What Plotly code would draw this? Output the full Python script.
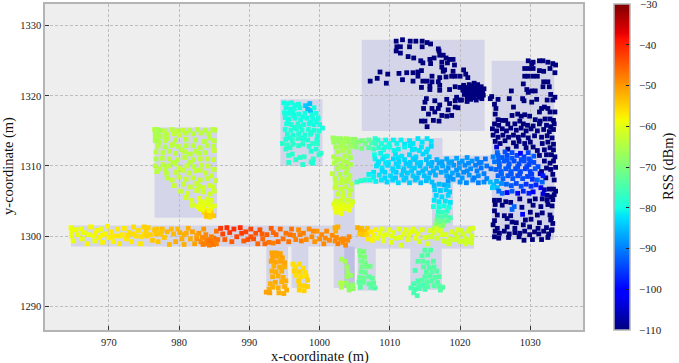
import plotly.graph_objects as go

JET = [[0.0, "rgb(0,0,127)"], [0.11, "rgb(0,0,255)"], [0.125, "rgb(0,0,255)"],
       [0.34, "rgb(0,219,255)"], [0.35, "rgb(0,229,247)"], [0.375, "rgb(20,255,226)"],
       [0.64, "rgb(238,255,8)"], [0.65, "rgb(247,246,0)"], [0.66, "rgb(255,236,0)"],
       [0.89, "rgb(255,19,0)"], [0.91, "rgb(232,0,0)"], [1.0, "rgb(127,0,0)"]]

# rooms: x0, x1, y0, y1
rooms = [
    (964.6, 1002.0, 1298.5, 1301.5), (1002.0, 1005.0, 1292.6, 1314.0), (1003.5, 1005.0, 1292.6, 1298.5),
    (1005.0, 1022.0, 1298.2, 1301.5), (1005.0, 1017.5, 1307.5, 1314.0), (1017.5, 1024.5, 1307.5, 1311.5),
    (1016.0, 1019.0, 1301.5, 1307.5), (992.4, 995.5, 1292.6, 1298.5), (996.0, 998.4, 1292.6, 1298.5),
    (1005.4, 1008.0, 1292.2, 1298.2), (1012.9, 1017.4, 1292.3, 1298.2), (976.5, 985.4, 1302.6, 1315.5),
    (994.4, 1000.4, 1310.0, 1319.5), (1006.0, 1023.5, 1315.0, 1328.0), (1024.5, 1033.4, 1299.5, 1325.0),
]

west_corridor = [
 (964.6,1301.2,-59),(964.7,1300.6,-59),(964.7,1300,-59),(964.9,1299.3,-59),(965.3,1300.9,-59),(965.6,1300.2,-59),(966,1301,-59),(966.2,1299.6,-59),(966.5,1300.5,-59),(966.9,1298.9,-58),(967.1,1300.2,-59),(967.4,1301.3,-58),(967.8,1300,-59),(968,1299.3,-59),(968.3,1300.8,-58),(968.6,1299.8,-58),(968.9,1301,-59),(969.1,1299.1,-58),(969.4,1300.3,-58),(969.8,1301.4,-58),(970,1299.8,-58),(970.3,1300.6,-57),(970.6,1299.2,-58),(970.9,1300,-57),(971.2,1301,-57),(971.5,1298.9,-57),(971.9,1300.2,-57),(972.2,1301.1,-57),(972.5,1299.6,-57),(972.9,1300.5,-56),(973.2,1299.2,-57),(973.5,1301.3,-56),(973.9,1300,-56),(974.2,1300.8,-56),(974.5,1298.9,-57),(974.9,1300.2,-56),(975,1301.3,-55),(975.3,1300.7,-55),(975.6,1301.2,-55),(975.9,1300.2,-55),(976.2,1299.4,-54),(976.5,1300.9,-54),(976.8,1301,-54),(977,1299.2,-54),(977.3,1300.3,-54),(977.6,1301,-53),(977.9,1299.8,-54),(978.3,1300.6,-53),(978.6,1298.8,-53),(978.9,1301,-53),(979.2,1300.3,-53),(979.5,1299.2,-52),(979.8,1301,-53),(980.1,1300.5,-52),(980.4,1299.6,-52),(980.7,1298.8,-52),(981,1300.4,-52),(981.3,1301.1,-52),(981.6,1299.6,-52),(981.9,1300.6,-51),(982.2,1298.9,-51),(982.5,1299.6,-50),(982.8,1300.4,-50),(983.1,1299.2,-49),(983.3,1299.8,-49),(983.5,1301,-50),(983.7,1298.9,-48),(983.9,1299.5,-48),(984.1,1299.1,-48),(984.3,1298.7,-48),(984.5,1299.5,-48),(984.7,1298.9,-48),(984.9,1299.7,-47),(985.1,1299.2,-48),(985.3,1300.7,-47),(985.5,1299.5,-47),(985.9,1301.1,-42),(986.2,1300.3,-43),(986.5,1299.5,-45),(986.8,1301.2,-41),(987.2,1300.5,-42),(987.5,1299.2,-45),(987.8,1301,-41),(988.2,1299.9,-43),(988.7,1301.2,-41),(988.9,1300.4,-42),(989.2,1299.3,-45),(989.5,1300.6,-43),(989.8,1299.5,-44),(990.2,1301,-43),(990.6,1299.6,-44),(990.9,1300.4,-44),(991.2,1298.9,-46),(991.5,1300.9,-44),(991.9,1299.6,-46),(992.2,1298.9,-46),(992.5,1300.2,-45),(992.8,1299.1,-47),(993.1,1301.1,-45),(993.4,1299,-48),(993.8,1300.2,-46),(994.1,1299.2,-46),(994.4,1301,-46),(994.8,1299.6,-47),(995.2,1300.4,-47),(995.6,1299.2,-47),(996,1301,-47),(996.3,1300.1,-48),(996.6,1299.5,-48),(997,1300.9,-49),(997.4,1299.3,-48),(997.7,1300.4,-48),(998.1,1299.5,-49),(998.5,1301,-49),(998.9,1299.9,-49),(999.3,1299.2,-50),(999.6,1300.7,-50),(1000,1299.6,-49),(1000.3,1300.2,-49),(1000.6,1298.9,-49),(1001,1300.7,-49),(1001.4,1299.4,-49),(1001.8,1300.1,-49),(1002.2,1299.3,-49),(1002.6,1298.9,-48),(1003,1299.5,-49),(1003.3,1299.1,-49),(1003.7,1298.7,-49),(1004,1299.4,-49),(1004.2,1299.9,-49),(1002.2,1301.2,-52),(1002.3,1300.7,-52),(1002.6,1301.3,-52),
 (968.1,1300.4,-58),(969,1300.1,-58),(970.4,1299.9,-57),(971.6,1300,-57),(972.7,1300.1,-56),(973.4,1300.3,-56),(974.6,1299.9,-56),(975.4,1300,-55),(976.7,1300.3,-54),(977.5,1300.6,-54),(980.7,1300.2,-52),(982.5,1300.1,-51),(983.8,1300.2,-49),(984.6,1299.9,-48),(984.3,1299.3,-47),(984.9,1298.8,-47),(985.3,1298.9,-48),(983.4,1298.8,-48),(990.2,1299.9,-44),(991.8,1300.3,-45),(993.4,1300.5,-46),(995.8,1300.2,-47),(997.2,1300.2,-48),(999.1,1300.7,-49),(1000.8,1299.7,-49),(1003.4,1299.6,-49),(1002.4,1299.8,-49),
]

nw_room = [
 (976.5,1315.2,-65),(976.8,1315.2,-65),(977.2,1315.1,-66),(976.6,1314.7,-65),(977,1314.5,-66),(976.6,1314.2,-65),(976.9,1314,-65),(977.3,1314.2,-65),(976.6,1313.6,-65),(977.1,1313.4,-65),(977.9,1315,-64),(978.2,1314.5,-64),(979,1315.2,-64),(979.3,1314.6,-63),(979.7,1315,-64),(980.1,1314.4,-63),(980.5,1315.1,-63),(981,1314.7,-64),(981.5,1315.1,-64),(982,1314.6,-64),(982.6,1315.2,-64),(983.1,1314.7,-64),(983.7,1315.1,-64),(984.2,1314.6,-64),(984.8,1315.2,-64),(985.1,1315.1,-64),(984.3,1314,-64),(985,1313.6,-64),(983.6,1313.5,-64),(982.3,1313.7,-64),(981,1313.8,-64),(979.5,1313.7,-64),(978,1313.6,-64),(977,1312.8,-64),(978,1312.7,-65),(978.9,1312.9,-64),(979.9,1312.8,-64),(981,1312.9,-64),(982,1312.9,-64),(983,1312.6,-64),(984,1312.9,-64),(984.9,1312.8,-64),(976.7,1312,-64),(977.7,1311.9,-64),(978.6,1312.1,-64),(979.5,1311.8,-64),(980.8,1312,-64),(981.6,1311.7,-64),(982.8,1311.8,-64),(983.7,1311.9,-64),(985,1312.2,-63),(976.7,1311,-65),(977.6,1311.1,-64),(978.6,1311,-64),(979.8,1310.9,-64),(980.8,1311.2,-64),(982,1310.9,-64),(983,1311,-63),(984,1311,-63),(984.9,1310.9,-63),(976.6,1310,-64),(977.7,1310.2,-64),(978.5,1310,-64),(979.5,1310.3,-64),(981.1,1310,-63),(982.1,1309.9,-64),(983.2,1310.1,-63),(984.1,1310,-63),(976.8,1309.2,-64),(978.2,1309,-64),(979.6,1309.1,-63),(980.5,1309.4,-63),(981.4,1309,-63),(982.3,1309.3,-63),(983.8,1309,-63),(985,1309.5,-63),(978.3,1308.3,-64),(979,1308,-63),(980,1308.4,-63),(981,1308.1,-63),(982,1308.3,-63),(983,1308,-63),(984,1308.2,-63),(985.2,1307.9,-63),(979.3,1307.2,-63),(980.6,1307.4,-63),(981.6,1307,-63),(982.8,1307.1,-63),(984.4,1307.2,-62),(984.9,1307,-62),(980.2,1306.4,-63),(981.2,1306.1,-62),(982.5,1306.5,-62),(983.4,1306.3,-62),(984.4,1306,-62),(985,1306.4,-62),(981,1305.5,-62),(981.8,1305.1,-61),(982.9,1305.4,-60),(983.3,1304.9,-60),(984,1305.3,-61),(984.6,1305.1,-61),(981.9,1304.4,-61),(982.7,1304.2,-60),(983.4,1304.3,-59),(984.2,1304.5,-60),(985,1304.3,-60),(982.9,1303.9,-59),(983.8,1303.7,-58),(984.5,1303.9,-59),(983.6,1303.4,-55),(984,1303,-54),(984.5,1303.3,-54),(984.9,1302.9,-54),(983.9,1302.8,-54),(984.4,1302.7,-55),
 (978.2,1313.9,-64),(979.1,1313.1,-64),(980.4,1312.3,-64),(982.4,1312.1,-64),(981.6,1310.5,-64),(979.1,1310.5,-64),(977.2,1309.6,-64),(978,1309.6,-64),(980,1309.7,-63),(983,1309.4,-63),(984.6,1308.6,-63),(982.5,1307.5,-63),(983.5,1306.9,-62),(983.9,1304.7,-60),(983,1304.6,-60),(984.3,1303.6,-58),(983.3,1303.8,-59),
]

n_room = [
 (994.9,1319,-80),(995.4,1318.9,-80),(996,1319,-80),(996.5,1318.7,-80),(997,1318.8,-80),(995.2,1318.3,-80),(995.8,1318.1,-80),(996.4,1318.2,-80),(997.2,1318.3,-80),(998,1318.6,-84),(998.6,1318.9,-85),(998.3,1318.1,-85),(998.7,1317.9,-85),(999.2,1318.3,-80),(995,1317.6,-80),(995.6,1317.5,-80),(996.2,1317.6,-80),(997,1317.4,-80),(997.9,1317.5,-80),(998.9,1317.3,-80),(999.5,1317.5,-80),(995.1,1316.9,-80),(995.7,1316.7,-80),(996.5,1316.8,-80),(997.3,1316.6,-80),(998.2,1316.8,-80),(999,1316.7,-80),(999.8,1316.8,-80),(995.3,1316,-79),(996,1315.9,-79),(996.9,1316,-79),(997.7,1315.9,-80),(998.5,1316,-80),(999.2,1315.9,-80),(1000,1315.9,-80),(1000.4,1315.4,-80),(995.1,1315.2,-79),(995.9,1315.1,-79),(996.7,1315.3,-79),(997.5,1315.1,-79),(998.4,1315.2,-79),(999.2,1315.1,-79),(999.9,1315,-79),(995.4,1314.5,-79),(996.2,1314.4,-79),(997,1314.6,-79),(997.9,1314.4,-79),(998.7,1314.5,-79),(999.7,1314.3,-79),(995.2,1313.8,-79),(996.1,1313.7,-78),(996.9,1313.9,-78),(997.7,1313.8,-79),(999.6,1313.7,-79),(994.7,1313.2,-78),(995.4,1313,-78),(996.2,1313.1,-78),(997.6,1313.1,-78),(999,1313.2,-78),(999.7,1313.2,-78),(995.2,1312.4,-78),(998.8,1312.1,-79),(995.6,1311.5,-78),(996.1,1311.7,-78),(996.6,1310.9,-78),(997.2,1311.2,-78),(997.8,1311.3,-78),(998.8,1310.6,-78),(999.1,1311,-78),(999.9,1311.6,-78),(1000.2,1311.8,-78),(995.6,1310.5,-78),(997.6,1310.2,-78),(999,1310.4,-79),
 (995.5,1316.3,-80),(996.3,1317.2,-80),(997.6,1317,-80),(998.7,1316.2,-80),(999.5,1316.3,-80),(996.4,1315.5,-79),(997.3,1315.6,-79),(998.9,1314.8,-79),(997.4,1314,-79),(995.8,1314,-79),(998.3,1313.7,-79),(998.5,1312.8,-79),(997,1312.9,-78),(995.8,1312.6,-78),(999.5,1312.4,-79),
]

mid_corridor = [
 (1001.9,1314,-67),(1002.4,1313.9,-67),(1003,1313.9,-67),(1003.8,1313.9,-66),(1004.4,1313.8,-67),(1005,1313.8,-68),(1002,1313.4,-67),(1002.7,1313.5,-67),(1003.3,1313.2,-66),(1004.1,1313.4,-67),(1004.8,1313.2,-68),(1005.5,1313.4,-69),(1002.3,1312.7,-66),(1003,1312.8,-66),(1003.8,1312.6,-66),(1004.5,1312.8,-67),(1005.2,1312.7,-69),(1006,1312.5,-70),(1002.6,1312,-65),(1003.3,1312.2,-65),(1004.2,1312,-66),(1002,1311.3,-65),(1002.7,1311,-65),(1003.6,1311.4,-65),(1004.4,1311.2,-66),(1002.1,1310.4,-65),(1003,1310.1,-65),(1003.9,1310.5,-65),(1004.4,1310.2,-65),(1002.5,1309.6,-65),(1003.3,1309.8,-65),(1001.8,1308.9,-64),(1002.9,1308.8,-65),(1003.8,1309,-65),(1004.3,1308.6,-65),(1002.3,1307.5,-64),(1003,1307.6,-64),(1003.8,1307.8,-64),(1004.5,1307.4,-64),(1002.2,1306.9,-63),(1003,1306.7,-63),(1003.7,1307,-64),(1004.4,1306.6,-64),(1002.6,1306,-63),(1003.4,1306.2,-63),(1004.3,1305.9,-63),(1002.3,1305,-62),(1003.2,1305,-62),(1004.1,1305.1,-62),(1004.7,1304.9,-62),(1002,1304.6,-60),(1002.7,1304.4,-60),(1003.3,1304.5,-60),(1004,1304.3,-60),(1004.5,1304.4,-60),(1002.2,1304,-59),(1002.9,1303.8,-59),(1003.5,1303.9,-59),(1004.2,1303.7,-59),(1002.4,1303.4,-59),(1003.1,1303.2,-59),
 (1002.4,1310.9,-65),(1003.4,1310.7,-65),(1004,1309.6,-65),(1002.2,1308.2,-64),(1003.2,1308.2,-64),(1004.1,1308.1,-64),(1003.3,1305.6,-62),(1002.6,1304.9,-61),
]

top_band = [
 (1007.9,1313.9,-78),(1008.3,1313.7,-78),(1007.4,1313.3,-75),(1008,1313.2,-77),(1008.8,1313.2,-79),(1009.4,1313.7,-80),(1009.9,1313.2,-80),(1010.5,1313.7,-81),(1011,1313.2,-81),(1011.6,1313.7,-81),(1012.1,1313.1,-82),(1012.8,1313.6,-82),(1013.3,1313.2,-82),(1014,1313.9,-82),(1014.6,1313.4,-82),(1015.3,1313.9,-82),(1015.9,1313.5,-82),(1007,1312.6,-74),(1007.7,1312.4,-76),(1008.4,1312.6,-78),(1009.1,1312.3,-79),(1010,1312.7,-80),(1011.2,1312.4,-81),(1012.1,1312.7,-81),(1013.5,1312.4,-82),(1014.5,1312.7,-82),(1015.4,1312.4,-82),(1015.9,1312.8,-83),(1007.8,1311.6,-80),(1008.7,1311.8,-81),(1009.6,1311.4,-81),(1010.8,1311.7,-82),(1011.7,1311.4,-82),(1012.8,1311.6,-83),(1013.7,1311.3,-83),(1014.7,1311.7,-83),(1015.6,1311.3,-84),
 (1006.5,1313.2,-71),(1006.1,1313.6,-70),(1007,1313.7,-72),(1010.6,1312.2,-81),(1012.9,1312.9,-82),(1014.2,1312.2,-82),(1009.3,1312.7,-80),(1013.2,1312.3,-82),(1009.2,1311.3,-81),(1011.2,1311.2,-82),(1013.3,1311.1,-83),(1015.2,1312,-83),
]

core_band = [
 (1007.9,1311,-81),(1008.4,1310.6,-82),(1009,1311,-82),(1009.8,1310.5,-82),(1010.5,1311,-83),(1011.3,1310.6,-83),(1012.1,1310.9,-83),(1012.9,1310.5,-84),(1013.6,1310.9,-84),(1014.4,1310.5,-84),(1015.2,1310.9,-85),(1016,1310.5,-86),(1016.7,1310.9,-86),(1017.4,1310.6,-87),(1018.1,1311,-87),(1018.8,1310.6,-87),(1019.5,1311.1,-87),(1020.3,1310.7,-88),(1021,1311.2,-88),(1021.7,1310.7,-88),(1022.4,1311,-89),(1023,1310.5,-90),(1023.6,1311,-91),
 (1008.1,1310,-82),(1008.9,1309.7,-82),(1009.7,1310.1,-83),(1010.4,1309.6,-83),(1011.2,1309.9,-83),(1012,1309.6,-84),(1012.8,1310,-84),(1013.5,1309.7,-84),(1014.3,1310,-85),(1015.1,1309.6,-85),(1015.9,1310,-86),(1016.7,1309.7,-86),(1017.5,1310,-87),(1018.3,1309.7,-88),(1019.1,1310.1,-88),(1019.9,1309.7,-88),(1020.7,1310.1,-89),(1021.5,1309.6,-89),(1022.2,1310.1,-90),(1023,1309.7,-91),(1023.8,1310,-91),(1024.4,1309.6,-92),
 (1007,1308.8,-81),(1007.7,1309.1,-82),(1008.5,1308.7,-82),(1009.3,1309.1,-83),(1010.1,1308.6,-83),(1010.9,1309.1,-84),(1011.7,1308.7,-84),(1012.5,1309,-84),(1013.3,1308.6,-84),(1014.1,1309,-85),(1014.9,1308.6,-85),(1015.7,1309,-86),(1016.5,1308.7,-86),(1017.3,1309.1,-87),(1018.1,1308.6,-87),(1018.9,1309,-87),(1019.7,1308.7,-88),(1020.5,1309.1,-89),(1021.3,1308.7,-88),(1022.6,1308.6,-89),(1023.4,1308.9,-90),
 (1005.3,1307.7,-76),(1005.9,1307.9,-78),(1006.5,1308,-79),(1007.2,1308,-80),(1008,1307.8,-81),(1008.8,1308,-82),(1009.6,1307.7,-83),(1010.4,1308,-83),(1011.2,1307.6,-83),(1012,1308,-84),(1012.8,1307.6,-84),(1013.6,1308,-84),(1014.4,1307.6,-85),(1015.2,1307.9,-85),(1016,1307.7,-85),(1018.3,1307.9,-88),(1019,1308.1,-88),(1020,1307.7,-88),(1020.9,1307.6,-89),(1021.8,1308,-89),(1022.6,1307.6,-90),(1023.4,1307.7,-89),
 (1008.3,1310.3,-82),(1009.4,1310.4,-82),(1010.9,1310.3,-83),(1012.3,1310.3,-84),(1013.9,1310.4,-84),(1015.5,1310.3,-85),(1017,1310.4,-87),(1018.4,1310.4,-87),(1019.9,1310.4,-88),(1021.2,1310.4,-89),(1022.7,1310.4,-90),(1008.9,1309.3,-83),(1010.5,1309.3,-83),(1011.9,1309.3,-84),(1013.1,1309.3,-84),(1014.7,1309.3,-85),(1016.2,1309.3,-86),(1018,1309.3,-87),(1019.5,1309.4,-88),(1021,1309.3,-89),(1022.4,1309.3,-90),(1007.7,1308.4,-81),(1009.3,1308.3,-83),(1010.8,1308.3,-84),(1012.3,1308.3,-84),(1013.9,1308.3,-85),(1015.5,1308.3,-85),(1018.6,1308.4,-88),(1020.3,1308.3,-88),(1022,1308.3,-90),(1023.8,1308.2,-90),
]

east_vertical = [
 (1016.3,1307.2,-85),(1017,1307.4,-85),(1017.7,1307.3,-86),(1018.3,1307.2,-85),(1016.4,1306.6,-84),(1017.2,1306.5,-84),(1018,1306.6,-84),(1018.5,1306.3,-84),(1016.6,1305.8,-83),(1017.4,1305.6,-83),(1018.3,1305.8,-83),(1016.3,1305.1,-82),(1017,1304.9,-82),(1017.9,1305,-82),(1018.6,1304.8,-82),(1016.2,1304.2,-80),(1017,1304.2,-80),(1017.7,1304.3,-80),(1018.4,1304.1,-80),(1016.9,1303.5,-78),(1017.5,1303.4,-77),(1018.2,1303.6,-78),(1016.8,1302.8,-75),(1017.4,1302.7,-75),(1018,1302.9,-75),(1018.6,1302.6,-76),(1016.7,1302.2,-72),(1017.2,1302,-72),(1017.8,1302.1,-72),(1018.3,1302.2,-73),(1016.5,1301.6,-68),(1017,1301.4,-68),(1017.6,1301.5,-69),(1016.3,1301.1,-66),
]

east_corridor = [
 (1005.4,1301.2,-52),(1005.8,1300.9,-52),(1006,1301.1,-53),(1006.4,1300.7,-53),(1006.8,1301.1,-54),(1005.7,1300.3,-54),(1006.2,1300.2,-54),(1006.7,1300.3,-55),(1006.9,1299.6,-57),(1007.3,1300.6,-57),(1007.7,1300.1,-58),(1007.5,1299.4,-58),(1008,1300.9,-58),(1008.2,1299.7,-59),(1008.6,1300.4,-59),(1008.9,1301,-60),(1009.1,1299.3,-60),(1009.5,1300.2,-60),(1009.9,1300.9,-60),(1010.2,1299.1,-60),(1010.5,1300.5,-60),(1010.9,1299.7,-61),(1011.3,1301,-60),(1011.6,1298.7,-61),(1011.9,1300.3,-60),(1012.3,1300.9,-60),(1012.6,1299.5,-60),(1013,1300.6,-60),(1013.3,1301,-60),(1013.7,1299.7,-60),(1014,1300.3,-60),(1014.2,1299.2,-61),(1014.6,1300.9,-60),(1015,1299.8,-61),(1015.4,1298.9,-61),(1015.8,1299.9,-62),(1016.3,1300.5,-61),(1016.7,1299.7,-62),(1017.2,1300.8,-61),(1017.6,1299.3,-62),(1018,1300.2,-61),(1018.4,1298.9,-62),(1018.8,1300.6,-61),(1019.2,1299.5,-62),(1019.6,1300.9,-61),(1020,1299.2,-62),(1020.4,1300.3,-62),(1020.8,1298.9,-62),(1021.2,1300.7,-62),(1021.5,1299.5,-62),(1021.7,1300,-62),(1021.8,1301.1,-61),(1021.4,1301,-61),(1020.8,1299.7,-62),
 (1009,1300,-60),(1010.2,1300,-60),(1011.5,1299.8,-60),(1012.7,1300.2,-60),(1013.5,1300.7,-60),(1015.7,1300.8,-61),(1016.6,1301,-61),(1017.4,1300.2,-61),(1018.5,1299.6,-62),(1019.4,1300.3,-62),(1020.2,1300.8,-62),(1020.6,1299.3,-62),(1021.2,1299.2,-62),(1021.6,1299,-62),(1019.7,1299.8,-62),(1018,1299.2,-62),
]

small_rooms = [
 (993.2,1297.6,-51),(993.8,1297.6,-51),(994.4,1297.5,-51),(993.3,1297,-51),(994,1297.1,-51),(994.7,1296.9,-51),(993.1,1296.4,-51),(993.7,1296.3,-51),(994.4,1296.4,-51),(995,1296.2,-51),(993.5,1295.7,-52),(994.3,1295.6,-52),(995,1295.6,-52),(993.2,1295,-52),(993.8,1294.9,-52),(994.6,1295,-52),(993.3,1294.2,-52),(994.1,1294.3,-52),(994.8,1294.1,-52),(993.7,1293.4,-52),(994.6,1293.5,-52),(995.2,1293.6,-52),(993,1293.2,-52),(993.3,1292.7,-52),(994.1,1292.6,-52),(995,1292.8,-52),(992.8,1292.4,-52),(992.4,1292,-51),(994.2,1291.9,-52),(994.9,1291.8,-52),(995.3,1292.3,-52),(992.9,1291.9,-51),
 (996.2,1296,-56),(996.5,1295.6,-56),(997.1,1296,-56),(997.7,1295.4,-56),(996.4,1295,-55),(997.1,1294.9,-55),(997.9,1294.8,-56),(996.6,1294.4,-56),(997.3,1294.2,-56),(998.1,1294.3,-56),(997,1293.6,-55),(998.3,1293.7,-55),(997.1,1293,-55),(997.7,1292.9,-55),(998.3,1292.8,-55),(997.1,1292.3,-55),(997.8,1292.2,-55),
 (1003.1,1296.7,-66),(1003.6,1296.4,-66),(1003.9,1295.6,-67),(1004,1294.9,-67),(1004.4,1294.4,-67),(1003.9,1294.2,-67),(1003,1293.3,-65),(1003.1,1292.7,-65),(1003.8,1293.3,-67),(1004.1,1292.9,-68),(1004.7,1293,-68),(1004.8,1292.5,-68),(1004.2,1292.3,-68),
 (1005.7,1297.9,-70),(1006.3,1297.8,-70),(1005.8,1297.2,-70),(1006.4,1297,-70),(1005.9,1296.4,-71),(1006.5,1296.2,-71),(1006,1295.6,-71),(1006.7,1295.6,-71),(1007.2,1295.7,-71),(1005.9,1294.9,-72),(1006.5,1294.8,-72),(1005.7,1294.1,-72),(1006.3,1294,-72),(1007,1294.2,-73),(1007.5,1294,-73),(1005.6,1293.4,-73),(1006.2,1293.4,-73),(1007,1293.2,-73),(1007.7,1293.3,-73),(1005.8,1292.7,-73),(1007.3,1292.7,-74),(1007.9,1292.6,-74),
 (1015,1298,-74),(1015.8,1298,-74),(1014.6,1297.2,-74),(1015.4,1297.3,-74),(1014,1296.4,-74),(1014.7,1296.4,-74),(1015.4,1296.2,-74),(1016.2,1296.4,-74),(1014.8,1295.6,-74),(1015.6,1295.5,-74),(1016.3,1295.6,-74),(1013.6,1295.1,-75),(1015.2,1294.9,-74),(1016,1294.9,-74),(1016.7,1295,-74),(1015,1294.2,-74),(1015.7,1294.3,-74),(1016.4,1294.1,-74),(1017,1294.2,-74),(1014,1293.6,-75),(1014.6,1293.7,-74),(1015.3,1293.5,-74),(1016,1293.6,-74),(1016.8,1293.4,-74),(1013.4,1293.2,-75),(1014.1,1292.9,-75),(1014.7,1293,-75),(1015.4,1292.8,-74),(1016.3,1292.9,-74),(1017,1292.9,-74),(1017.5,1292.7,-74),(1013,1292.6,-75),(1013.6,1292.4,-75),(1014.2,1292.5,-75),(1015,1292.4,-75),(1017.2,1292.3,-74),(1013.4,1291.9,-75),(1013.9,1291.5,-75),
]

ne_room = [
 (1010.9,1327.8,-110),(1011.8,1328,-110),(1012.9,1327.8,-110),(1013.7,1327.8,-110),(1014.6,1327.8,-110),(1015.3,1327.6,-110),(1015.8,1327.4,-110),(1011,1327,-110),(1011.5,1327,-110),(1012.8,1327,-110),(1014.6,1327,-110),(1010.9,1326.4,-110),(1011.5,1326.1,-110),(1016.9,1326.7,-110),(1017,1326.4,-110),(1012.6,1325.6,-110),(1013.4,1325.4,-110),(1014.4,1325,-110),(1014.7,1324.7,-110),(1015.7,1325.2,-110),(1016.3,1325.4,-110),(1017.1,1325.8,-110),(1017.6,1325.8,-110),(1018,1325.4,-110),(1018.5,1325.2,-110),(1019,1325.2,-110),(1015.8,1324.6,-110),(1017.4,1324.8,-110),(1018.2,1324.7,-110),(1019.2,1324.4,-110),(1017.4,1324.1,-110),(1017.8,1323.7,-110),(1017.6,1323.5,-110),(1019,1323.5,-110),(1020.5,1323.7,-110),(1014.5,1323.6,-110),(1014,1323.4,-110),(1013.3,1323.3,-110),(1012.4,1323.3,-110),(1011.3,1323.2,-110),(1008.6,1323.4,-110),(1009.7,1323.1,-110),(1008.2,1322.5,-110),(1007.2,1322.1,-110),(1009.5,1321.8,-110),(1011.8,1322.3,-110),(1013.3,1322.1,-110),(1014,1322.8,-110),(1014.7,1322.1,-110),(1015.3,1322.1,-110),(1016,1322.8,-110),(1016,1322,-110),(1017.1,1322.6,-110),(1016.9,1322,-110),(1018,1322.7,-110),(1018.8,1322.8,-110),(1019.3,1322.8,-110),(1020,1322.8,-110),(1020.8,1323.1,-110),(1021.1,1322.6,-110),(1017.1,1321.5,-110),(1015.7,1321.4,-110),(1014.5,1321.2,-110),(1015.7,1320.9,-110),(1017.1,1320.8,-110),(1018.5,1320.9,-110),(1019.3,1321.3,-110),(1020,1321.2,-110),(1020.5,1321.5,-110),
 (1020.4,1320.8,-110),(1020.6,1320.2,-110),(1020.7,1321,-110),(1020.9,1320.4,-110),(1021,1319.8,-110),(1021.1,1321.2,-110),(1021.2,1320.6,-110),(1021.3,1321.6,-110),(1021.4,1320,-110),(1021.5,1319.5,-110),(1021.6,1320.9,-110),(1021.7,1321.4,-110),(1021.8,1320.3,-110),(1021.9,1319.7,-110),(1022,1321.8,-110),(1022.1,1320.7,-110),(1022.2,1321.2,-110),(1022.3,1319.4,-110),(1022.4,1320.1,-110),(1022.5,1321.6,-110),(1022.6,1320.5,-110),(1022.7,1319.8,-110),(1022.8,1321,-110),(1022.9,1320.3,-110),(1023,1321.3,-110),(1023.1,1319.6,-110),(1023.2,1320.7,-110),(1023.3,1320.1,-110),(1023.4,1321,-110),(1021,1319.2,-110),(1020.2,1319.4,-110),(1019.5,1319.8,-110),
 (1015.2,1319.6,-110),(1016.4,1319.3,-110),(1015,1319.1,-110),(1018.1,1319.5,-110),(1019.3,1319.3,-110),(1020,1319.4,-110),(1018.5,1318.9,-110),(1017.1,1318.7,-110),(1019.3,1318.4,-110),(1014.8,1318.2,-110),(1016,1318.2,-110),(1016.9,1318.2,-110),(1018.3,1318,-110),(1019.7,1318.3,-110),(1016.4,1317.7,-110),(1015.5,1317.4,-110),(1017.4,1317.2,-110),(1018.1,1317.1,-110),(1018.8,1317.2,-110),(1014.5,1316.4,-110),(1015,1316.4,-110),(1016.2,1316.5,-110),(1017,1316.4,-110),(1015.3,1315.6,-110),
]

east_room = [
 (1029.7,1325,-110),(1030.4,1324.8,-110),(1031.3,1325,-110),(1031.8,1325,-110),(1032.5,1324.8,-110),(1033.2,1324.6,-110),(1033.6,1324.4,-110),(1030.2,1324.6,-110),(1029.2,1323.9,-110),(1029.8,1323.9,-110),(1030.4,1323.9,-110),(1031.3,1323.6,-110),(1031.9,1323.5,-110),(1032.8,1323.9,-110),(1033.5,1323.3,-110),(1029.2,1322.8,-110),(1029.7,1322.8,-110),(1030.4,1322.8,-110),(1031,1322.8,-110),(1029,1321.7,-110),(1030.2,1320.7,-110),(1030.7,1320.7,-110),(1031.9,1322,-110),(1032.5,1322,-110),(1031.8,1321.3,-110),(1032.7,1321.3,-110),(1032.9,1320.2,-110),(1033.5,1319.8,-110),(1027.3,1320.7,-110),(1029.5,1320.9,-110),(1029.7,1320.5,-110),(1024.5,1319.9,-110),(1024.3,1319.6,-110),(1025.4,1319.5,-110),(1027,1319.6,-110),(1028.9,1319.6,-110),(1029.1,1319.3,-110),(1030.9,1319.5,-110),(1030.2,1319.1,-110),(1032.4,1319.4,-110),(1033.2,1319.4,-110),(1024.9,1318.8,-110),(1025.1,1318.2,-110),(1027.6,1318.4,-110),(1032,1318.4,-110),(1031.6,1318.2,-110),(1032.5,1318.2,-110),(1032.8,1317.7,-110),(1033.5,1317.7,-110),(1031.3,1317.7,-110),
 (1025,1317.4,-110),(1025.4,1316.6,-110),(1026,1316.5,-110),(1026.5,1316.5,-110),(1027.4,1317.2,-110),(1028.2,1317.4,-110),(1028.7,1317.1,-110),(1029.2,1317.3,-110),(1029.9,1317.1,-110),(1030.7,1316.6,-110),(1031.4,1316.4,-110),(1032.1,1316.7,-110),(1032.8,1316.7,-110),(1033.3,1316.5,-110),(1024.9,1316,-110),(1025.5,1315.8,-110),(1026.8,1316,-110),(1027.8,1316,-110),(1028.5,1316.4,-110),(1029,1316,-110),(1029.6,1315.8,-110),(1030.4,1315.7,-110),(1031.3,1316,-110),(1032.3,1315.8,-110),(1032.9,1315.6,-110),(1033.4,1316,-110),(1024.6,1315.3,-110),(1025.2,1315,-110),(1026,1315.3,-110),(1026.6,1315,-110),(1027.2,1315.4,-110),(1028,1315.1,-110),(1028.7,1315.4,-110),(1029.4,1315,-110),(1030.1,1315.3,-110),(1031,1315,-110),(1031.9,1315.2,-110),(1032.7,1314.9,-110),(1033.3,1315.2,-110),(1024.7,1314.4,-110),(1025.4,1314.1,-110),(1026.1,1314.4,-110),(1026.9,1314.1,-110),(1027.6,1314.4,-110),(1028.3,1314.1,-110),(1029,1314.4,-110),(1029.7,1314,-110),(1030.6,1314.3,-110),(1031.6,1314.1,-110),(1032.4,1314.3,-110),(1033.1,1314,-110),(1025,1313.5,-110),(1025.7,1313.2,-110),(1026.4,1313.6,-110),(1027.6,1313.3,-110),(1028.4,1313.5,-110),(1029.2,1313.2,-110),(1030,1313.4,-110),(1031.7,1313.2,-110),(1032.5,1313.4,-110),(1033.3,1313.1,-110),(1025.2,1312.7,-104),(1026.8,1312.4,-110),(1028,1312.8,-110),(1029.4,1312.6,-110),(1030.4,1312.7,-110),(1031,1312.2,-110),(1032,1312.3,-110),(1032.8,1312.6,-110),(1033.3,1312.3,-110),(1031.3,1311.5,-110),(1032.3,1311.6,-110),(1033,1311.6,-110),(1033.5,1311.3,-110),(1032,1310.7,-110),(1032.8,1310.4,-110),(1033.3,1310.7,-110),(1032.3,1309.7,-110),(1032.9,1309.5,-110),(1033.6,1309.8,-110),(1031.6,1309.2,-110),(1033.2,1308.8,-110),(1032.2,1308.3,-110),(1033.4,1308,-110),
 (1024.7,1311.3,-90),(1025.4,1311.5,-92),(1026,1311.2,-93),(1026.7,1311.5,-94),(1027.4,1311.1,-93),(1028.1,1311.5,-95),(1028.6,1311.8,-101),(1029.1,1311.3,-95),(1029.8,1311,-94),(1030.5,1311.4,-93),(1024.9,1310.6,-91),(1025.6,1310.3,-92),(1026.3,1310.7,-93),(1027,1310.3,-93),(1027.7,1310.7,-94),(1028.4,1310.3,-94),(1029.1,1310.7,-94),(1029.8,1310.2,-95),(1030.5,1310.5,-94),(1031.1,1309.9,-94),(1025.1,1309.5,-92),(1025.8,1309.2,-93),(1026.5,1309.6,-93),(1027.2,1309.2,-93),(1027.9,1309.6,-94),(1028.6,1309.2,-94),(1029.3,1309.6,-95),(1030,1309.2,-95),(1030.7,1309.6,-93),(1031.4,1308.9,-105),(1031.8,1308.6,-98),(1025.4,1308.6,-92),(1026.1,1308.2,-92),(1026.8,1308.6,-93),(1027.5,1308.2,-93),(1028.2,1308.6,-94),(1028.9,1308.2,-94),(1029.6,1308.5,-95),(1030.3,1308.1,-96),(1031,1308,-92),(1031.7,1307.7,-92),(1024.3,1307.7,-85),(1024.8,1307.3,-85),(1025.2,1307.8,-87),(1024.6,1306.9,-84),(1025.3,1306.9,-85),(1025.9,1307.5,-89),(1026.6,1307.4,-92),(1027.3,1307.2,-93),(1028,1307.5,-94),(1028.7,1307.1,-94),(1029.4,1307.4,-96),(1030.1,1307.1,-96),(1030.8,1307.3,-97),(1031.5,1306.9,-100),(1032,1306.6,-106),(1025.5,1306.4,-92),(1026,1306.1,-92),(1026.7,1306.2,-101),(1027.4,1306.4,-93),(1028.2,1306.1,-101),(1029,1306.4,-97),(1029.8,1306.1,-98),(1030.4,1306.3,-100),(1031.8,1306,-103),(1032.7,1306.7,-110),(1033.3,1306.7,-110),(1033.6,1306.4,-110),
 (1032.4,1305.8,-110),(1033,1305.6,-110),(1033.4,1305.9,-110),(1031.7,1305.3,-110),(1032.4,1305.1,-110),(1033.2,1305.2,-110),(1024.9,1305.1,-110),(1025.6,1305.1,-110),(1026.5,1304.9,-110),(1027.2,1304.8,-110),(1028.5,1305.3,-110),(1029.9,1305,-110),(1030.7,1305.3,-110),(1025,1304.5,-110),(1026,1304.4,-110),(1027.7,1304.2,-92),(1027.4,1303.8,-92),(1028.8,1304.1,-110),(1030.4,1304.4,-110),(1031.5,1304.2,-110),(1032.5,1304.5,-110),(1033.1,1304.3,-110),(1024.9,1303.6,-110),(1025.3,1303,-110),(1026.3,1302.9,-110),(1027.2,1302.9,-110),(1028.9,1303.1,-100),(1030,1303.4,-110),(1031,1303,-110),(1031.7,1303.3,-110),(1032.8,1303,-110),(1033,1302.6,-110),(1024.9,1302.2,-110),(1026.7,1302.5,-110),(1027.4,1302,-110),(1028,1301.9,-110),(1029.3,1302.3,-110),(1030.1,1302.4,-110),(1031.3,1301.9,-110),(1032.9,1302.3,-110),(1033.2,1301.8,-110),(1024.7,1301.6,-110),(1025.3,1301.1,-110),(1026.7,1301.3,-110),(1027.8,1301.1,-110),(1029,1301.6,-110),(1029.9,1301.3,-110),(1031.1,1301.1,-110),(1032.3,1301.2,-110),(1033.1,1300.9,-110),(1025,1300.7,-110),(1025.6,1300.4,-110),(1026.3,1300.7,-110),(1027,1300.3,-110),(1027.8,1300.5,-110),(1028.5,1300.4,-110),(1029.2,1300.7,-110),(1029.9,1300.2,-110),(1030.6,1300.6,-110),(1031.2,1300.3,-110),(1031.9,1300.7,-110),(1032.6,1300.3,-110),(1033,1300.8,-110),(1024.9,1299.9,-110),(1025.5,1299.7,-110),(1026.9,1299.8,-110),(1028.4,1299.9,-110),(1029.1,1299.4,-110),(1030.3,1299.5,-110),(1031.6,1299.5,-110),(1032.5,1299.8,-110),
 (1025.3,1311.9,-92),(1026.4,1312,-94),(1027.4,1311.9,-94),(1029.7,1311.9,-95),(1025.5,1310.9,-92),(1026.7,1310.9,-93),(1028.7,1310.9,-94),(1030,1310.7,-94),(1025.6,1309.9,-92),(1026.9,1309.9,-93),(1028.2,1309.9,-94),(1029.5,1309.9,-95),(1025.9,1308.9,-92),(1027.3,1308.9,-93),(1028.5,1308.9,-94),(1030.2,1308.8,-95),
]

groups = [west_corridor, nw_room, n_room, mid_corridor, top_band, core_band, east_vertical,
          east_corridor, small_rooms, ne_room, east_room]
xs = [p[0] for g in groups for p in g]
ys = [p[1] for g in groups for p in g]
rss = [p[2] for g in groups for p in g]

X_TICKS = [970, 980, 990, 1000, 1010, 1020, 1030]
Y_TICKS = [1290, 1300, 1310, 1320, 1330]
CB_TICKS = [-40, -50, -60, -70, -80, -90, -100, -110]
CB_LABELS = ["\u00a0\u00a0\u2212" + str(-v) for v in CB_TICKS]
CB_TOP_LABEL = "\u221230"

FONT = "Liberation Serif"
fig = go.Figure()
for x0, x1, y0, y1 in rooms:
    fig.add_shape(type="rect", x0=x0, x1=x1, y0=y0, y1=y1, layer="below",
                  fillcolor="rgba(0,0,200,0.10)", line_width=0)

fig.add_trace(go.Scatter(
    x=xs, y=ys, mode="markers", showlegend=False, hoverinfo="skip",
    marker=dict(symbol="square", size=4.8, line_width=0, color=rss, cmin=-110, cmax=-30,
                colorscale=JET, showscale=True,
                colorbar=dict(thickness=16, thicknessmode="pixels", len=1, lenmode="fraction",
                              x=1.0585, xanchor="left", y=0.5, yanchor="middle", xpad=0, ypad=0,
                              outlinecolor="#b4b4b4", outlinewidth=1.5,
                              tickmode="array", tickvals=CB_TICKS, ticktext=CB_LABELS,
                              ticks="inside", ticklen=4, tickcolor="#222222", tickwidth=1,
                              tickfont=dict(family=FONT, size=11, color="#222222"))),
))

axis = dict(showline=True, mirror=True, linecolor="#b4b4b4", linewidth=1.5, showgrid=True,
            gridcolor="#bdbdbd", griddash="3px,2px", gridwidth=1, zeroline=False, automargin=False,
            ticks="inside", ticklen=4, tickcolor="#333333", tickwidth=1,
            tickfont=dict(family=FONT, size=10.5, color="#222222"))
fig.update_xaxes(axis, range=[960.9, 1037.5], tickvals=X_TICKS, ticklabelstandoff=2)
fig.update_yaxes(axis, range=[1286.6, 1333.1], tickvals=Y_TICKS)

title_font = dict(family=FONT, size=14.5, color="#111111")
fig.add_annotation(text="x-coordinate (m)", xref="x", yref="paper", x=1000, y=-0.08, yanchor="middle",
                   showarrow=False, font=title_font)
fig.add_annotation(text="y-coordinate (m)", xref="paper", yref="y", x=-0.067, y=1310, xanchor="center",
                   yanchor="middle", textangle=-90, showarrow=False, font=title_font)
fig.add_annotation(text="RSS (dBm)", xref="paper", yref="paper", x=1.158, y=0.5, xanchor="center",
                   yanchor="middle", textangle=-90, showarrow=False, font=title_font)
fig.add_annotation(text=CB_TOP_LABEL, xref="paper", yref="paper", x=1.1045, y=1.0, xanchor="left",
                   yanchor="middle", showarrow=False, borderpad=0,
                   font=dict(family=FONT, size=11, color="#222222"))
fig.update_layout(width=679, height=363, autosize=False, paper_bgcolor="white", plot_bgcolor="#eeeeee",
                  margin=dict(l=45, r=95.5, t=3.5, b=33))
fig.write_html("out.html", post_script="document.body.style.margin='0';",
               config=dict(displayModeBar=False))
